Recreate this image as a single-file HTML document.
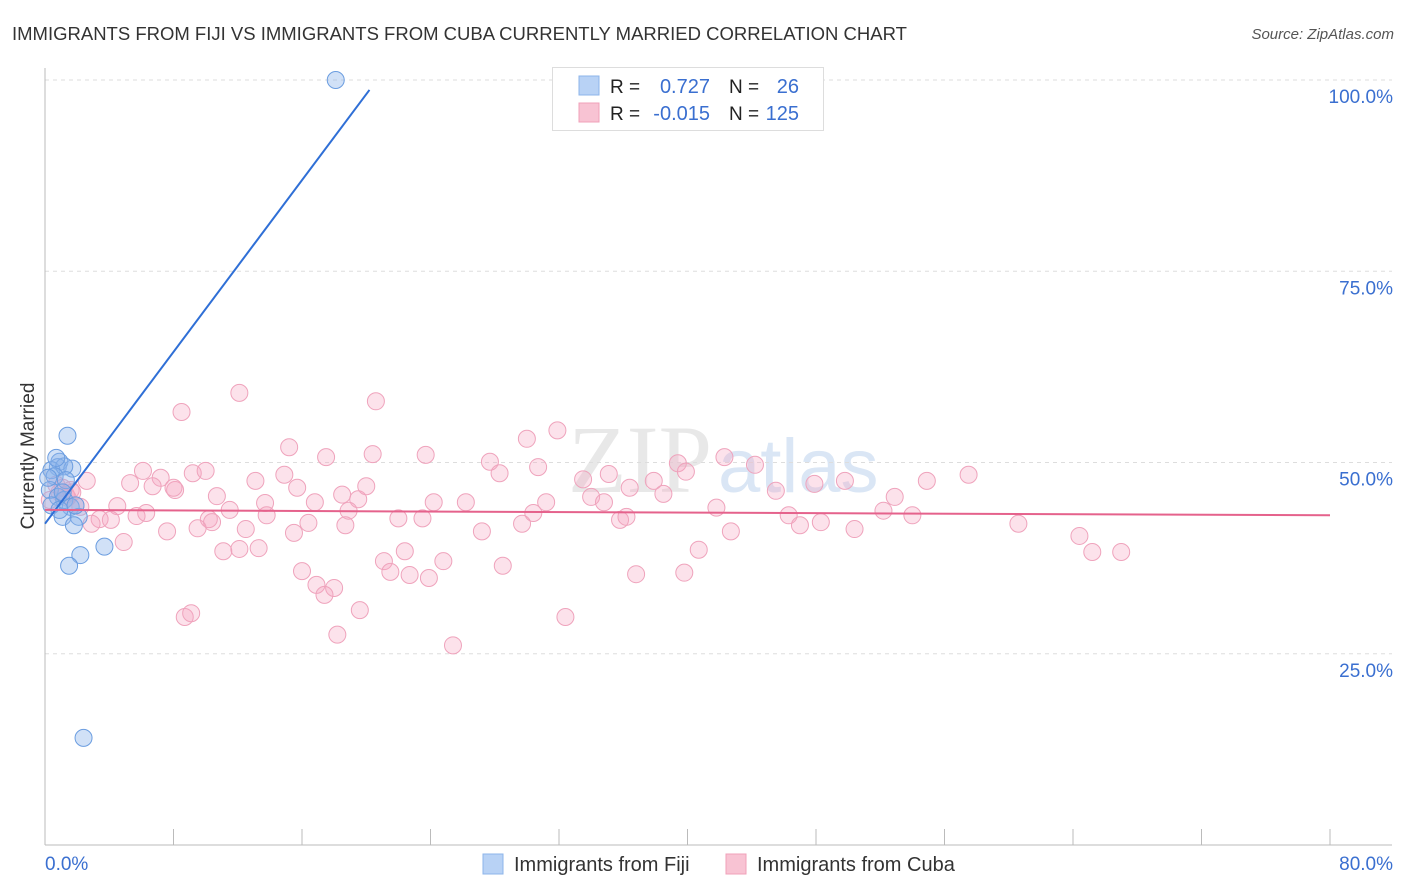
<!DOCTYPE html>
<html><head><meta charset="utf-8"><style>
body{margin:0;background:#fff;font-family:"Liberation Sans",sans-serif;}
svg{display:block}
</style></head><body>
<svg id="chart" width="1406" height="892">
<text x="12" y="40" font-size="18.5" fill="#333">IMMIGRANTS FROM FIJI VS IMMIGRANTS FROM CUBA CURRENTLY MARRIED CORRELATION CHART</text>
<text x="1394" y="39" font-size="15" fill="#555" font-style="italic" text-anchor="end">Source: ZipAtlas.com</text>
<text x="712" y="492" font-size="96" fill="#e8e8e8" font-family="Liberation Serif,serif" text-anchor="end">ZIP</text>
<text x="718" y="492" font-size="76" fill="#dae6f5">atlas</text>
<g id="grid"></g>
<g id="axes"></g>
<g id="pink"></g>
<g id="blue"></g>
<g id="lines"></g>
<text transform="translate(34,456) rotate(-90)" font-size="19" fill="#333" text-anchor="middle">Currently Married</text>
<text x="45" y="870" font-size="19" fill="#3a6fd0">0.0%</text>
<text x="1393" y="870" font-size="19" fill="#3a6fd0" text-anchor="end">80.0%</text>
<g>
<rect x="552.5" y="67.5" width="271" height="63" fill="#fff" stroke="#ddd"/>
<rect x="579" y="76" width="20" height="19" fill="#b8d2f5" stroke="#8db4ea"/>
<rect x="579" y="103" width="20" height="19" fill="#f8c3d3" stroke="#f0a0ba"/>
<text x="610" y="93" font-size="19" fill="#222">R =</text>
<text x="710" y="93" font-size="20" fill="#3a6fd0" text-anchor="end">0.727</text>
<text x="729" y="93" font-size="19" fill="#222">N =</text>
<text x="799" y="93" font-size="20" fill="#3a6fd0" text-anchor="end">26</text>
<text x="610" y="120" font-size="19" fill="#222">R =</text>
<text x="710" y="120" font-size="20" fill="#3a6fd0" text-anchor="end">-0.015</text>
<text x="729" y="120" font-size="19" fill="#222">N =</text>
<text x="799" y="120" font-size="20" fill="#3a6fd0" text-anchor="end">125</text>
</g>
<g>
<rect x="483" y="854" width="20" height="20" fill="#b8d2f5" stroke="#8db4ea"/>
<text x="514" y="871" font-size="20" fill="#333">Immigrants from Fiji</text>
<rect x="726" y="854" width="20" height="20" fill="#f8c3d3" stroke="#f0a0ba"/>
<text x="757" y="871" font-size="20" fill="#333">Immigrants from Cuba</text>
</g>
</svg>
<script>
const yTicks=[25,50,75,100];
const yTickLabels=["25.0%","50.0%","75.0%","100.0%"];
const xTicks=[0,8,16,24,32,40,48,56,64,72,80];
const fijiX=[18.1,1.4,0.9,0.8,0.4,1.7,1.2,0.6,0.3,1.3,0.8,1.2,1.6,1.1,2.1,1.8,2.2,3.7,1.5,2.4,0.4,0.7,1.1,0.2,0.9,1.9];
const fijiY=[100,53.5,50.1,49.4,49.0,49.2,49.5,48.2,46.4,47.7,45.5,45.1,44.2,42.9,42.9,41.8,37.9,39.0,36.5,14.0,44.4,50.6,46.1,48.0,43.8,44.4];
const cubaX=[8.5,12.1,20.6,31.9,15.2,30.0,17.5,20.4,23.7,27.7,30.7,28.3,6.1,7.2,9.2,10.0,5.3,6.7,8.1,8.0,13.1,14.9,15.7,16.8,18.5,19.5,20.0,10.7,13.7,11.5,4.5,2.2,3.4,5.7,6.3,10.2,13.8,10.4,9.5,12.5,15.5,16.4,18.7,18.9,22.0,23.5,24.2,26.2,27.2,29.7,30.4,31.2,33.5,35.1,36.4,34.0,34.8,35.8,36.2,37.9,39.4,39.9,38.5,42.3,44.2,45.5,41.8,42.7,46.3,47.0,48.3,47.9,49.8,50.4,52.2,52.9,54.0,54.9,57.5,60.6,64.4,65.2,67.0,40.7,39.8,36.8,32.4,25.4,28.5,22.4,21.1,21.5,22.7,23.9,24.8,19.6,18.2,18.0,16.9,17.4,16.0,13.3,12.1,11.1,4.9,2.9,4.1,7.6,8.7,9.1,0.9,1.3,0.7,1.7,2.6,0.3,1.9,1.4,1.1,1.6];
const cubaY=[56.6,59.1,58.0,54.2,52.0,53.1,50.7,51.1,51.0,50.1,49.4,48.6,48.9,48.0,48.6,48.9,47.3,46.9,46.4,46.7,47.6,48.4,46.7,44.8,45.8,45.2,46.9,45.6,44.7,43.8,44.3,44.2,42.6,43.0,43.4,42.6,43.1,42.2,41.4,41.3,40.8,42.1,41.8,43.7,42.7,42.7,44.8,44.8,41.0,42.0,43.4,44.8,47.8,48.5,46.7,45.5,44.8,42.5,42.9,47.6,49.9,48.8,45.9,50.7,49.7,46.3,44.1,41.0,43.1,41.8,42.2,47.2,47.6,41.3,43.7,45.5,43.1,47.6,48.4,42.0,40.4,38.3,38.3,38.6,35.6,35.4,29.8,26.1,36.5,38.4,37.1,35.7,35.3,34.9,37.1,30.7,27.5,33.6,34.0,32.7,35.8,38.8,38.7,38.4,39.6,42.0,42.5,41.0,29.8,30.3,46.1,45.8,47.1,46.1,47.6,45.1,44.4,45.4,46.7,46.4];
const fijiTrend=[[0,42.0],[20.2,98.7]];
const cubaTrend=[[0,43.8],[80,43.1]];
const NS="http://www.w3.org/2000/svg";
const X0=45,X1=1330,Y0=845,Y100=80;
function sx(v){return X0+(X1-X0)*v/80;}
function sy(v){return Y0-(Y0-Y100)*v/100;}
function mk(tag,attrs,parent){const e=document.createElementNS(NS,tag);for(const k in attrs)e.setAttribute(k,attrs[k]);parent.appendChild(e);return e;}
const grid=document.getElementById('grid'),axes=document.getElementById('axes');
yTicks.forEach((t,i)=>{
  const l=mk('line',{x1:X0,x2:1392,y1:sy(t),y2:sy(t),stroke:'#ddd','stroke-dasharray':'4,4'},grid);
  
  
  const tx=mk('text',{x:1393,y:sy(t)+23,'font-size':19,fill:'#3a6fd0','text-anchor':'end'},grid);
  tx.textContent=yTickLabels[i];
  
  
});
const ya=mk('line',{x1:X0,x2:X0,y1:68,y2:Y0,stroke:'#bbb'},axes);


const xa=mk('line',{x1:X0,x2:1392,y1:Y0,y2:Y0,stroke:'#bbb'},axes);


xTicks.forEach(t=>{
  const l=mk('line',{x1:sx(t),x2:sx(t),y1:829,y2:Y0,stroke:'#bbb'},axes);
  
  
});
const pg=document.getElementById('pink');
cubaX.forEach((x,i)=>{
  const c=mk('circle',{cx:sx(x),cy:sy(cubaY[i]),r:8.5,fill:'rgba(245,165,192,0.32)',stroke:'#efa3bc','stroke-width':1},pg);
  
  
});
const bg=document.getElementById('blue');
fijiX.forEach((x,i)=>{
  const c=mk('circle',{cx:sx(x),cy:sy(fijiY[i]),r:8.5,fill:'rgba(140,180,235,0.4)',stroke:'#6b9de0','stroke-width':1},bg);
  
  
});
const lg=document.getElementById('lines');
const fl=mk('line',{x1:sx(fijiTrend[0][0]),y1:sy(fijiTrend[0][1]),x2:sx(fijiTrend[1][0]),y2:sy(fijiTrend[1][1]),stroke:'#2f6fd6','stroke-width':2},lg);


const cl=mk('line',{x1:sx(cubaTrend[0][0]),y1:sy(cubaTrend[0][1]),x2:sx(cubaTrend[1][0]),y2:sy(cubaTrend[1][1]),stroke:'#e5628c','stroke-width':2},lg);


</script>
</body></html>
